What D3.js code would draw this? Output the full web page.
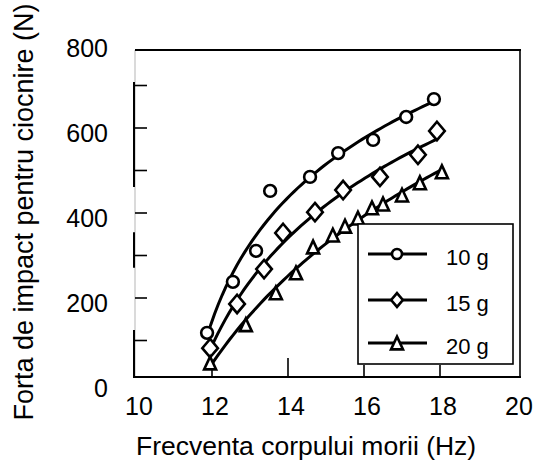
<!DOCTYPE html>
<html>
<head>
<meta charset="utf-8">
<script src="https://cdn.jsdelivr.net/npm/d3@7"></script>
<style>
  body { margin: 0; background: #fff; }
  text { font-family: "Liberation Sans", Arial, sans-serif; fill: #000; }
</style>
</head>
<body>
<svg id="chart" width="539" height="462"></svg>
<script>
// Measured impact force (N) against mill body frequency (Hz), one series per ball mass
const freq10  = [11.87, 12.55, 13.16, 13.53, 14.58, 15.32, 16.24, 17.11, 17.84];
const force10 = [118, 238, 311, 452, 485, 541, 572, 626, 668];

const freq15  = [11.95, 12.66, 13.37, 13.87, 14.71, 15.45, 16.42, 17.42, 17.92];
const force15 = [82, 186, 268, 353, 402, 454, 485, 537, 593];

const freq20  = [11.95, 12.89, 13.68, 14.21, 14.66, 15.18, 15.50, 15.84, 16.21, 16.50, 17.00, 17.47, 18.05];
const force20 = [47, 137, 212, 259, 320, 348, 369, 388, 412, 421, 442, 471, 497];

const seriesNames = ["10 g", "15 g", "20 g"];
const seriesMarkers = ["circle", "diamond", "triangle"];

const xTickLabels = [10, 12, 14, 16, 18, 20];
const xTickMarks = [12, 14, 16, 18];
const yTickLabels = [0, 200, 400, 600, 800];
const yTickMarks = [100, 200, 300, 400, 500, 600, 700];
// stretches of the left edge that are drawn heavier (N)
const leftEdgeHeavy = [[708, 461], [355, 271], [125, 14]];

const xTitle = "Frecventa corpului morii (Hz)";
const yTitle = "Forta de impact pentru ciocnire (N)";

// ---- layout ----
const frame = { left: 135, right: 520, top: 50, bottom: 377 };
const x = d3.scaleLinear().domain([10, 20]).range([136, 516]);
const y = d3.scaleLinear().domain([0, 800]).range([383, 43]);

const svg = d3.select("#chart");

// ---- frame ----
svg.append("line").attr("x1", frame.left).attr("x2", frame.left)
  .attr("y1", frame.top).attr("y2", frame.bottom)
  .attr("stroke", "#b5b5b5").attr("stroke-width", 1);
leftEdgeHeavy.forEach(([a, b]) => {
  svg.append("line").attr("x1", frame.left - 1).attr("x2", frame.left - 1)
    .attr("y1", y(a)).attr("y2", y(b))
    .attr("stroke", "#000").attr("stroke-width", 2);
});
svg.append("line").attr("x1", frame.left).attr("x2", frame.right + 1)
  .attr("y1", frame.top).attr("y2", frame.top)
  .attr("stroke", "#000").attr("stroke-width", 2.2);
svg.append("line").attr("x1", frame.left - 2).attr("x2", frame.right + 1)
  .attr("y1", frame.bottom).attr("y2", frame.bottom)
  .attr("stroke", "#000").attr("stroke-width", 2.2);
svg.append("line").attr("x1", frame.right).attr("x2", frame.right)
  .attr("y1", frame.top).attr("y2", frame.bottom)
  .attr("stroke", "#000").attr("stroke-width", 1.6);

// ---- ticks (inward) ----
svg.append("g").selectAll("line").data(yTickMarks).join("line")
  .attr("x1", frame.left).attr("x2", frame.left + 12)
  .attr("y1", d => y(d)).attr("y2", d => y(d))
  .attr("stroke", "#000").attr("stroke-width", 1.6);
svg.append("g").selectAll("line").data(xTickMarks).join("line")
  .attr("x1", d => x(d)).attr("x2", d => x(d))
  .attr("y1", frame.bottom).attr("y2", d => frame.bottom - (d === 14 ? 19 : 12))
  .attr("stroke", "#000").attr("stroke-width", 1.6);

// ---- tick labels ----
svg.append("g").selectAll("text").data(yTickLabels).join("text")
  .attr("x", 108).attr("y", d => y(d) + 5)
  .attr("text-anchor", "end").attr("dominant-baseline", "central")
  .attr("font-size", 25).text(d => d);
svg.append("g").selectAll("text").data(xTickLabels).join("text")
  .attr("x", d => x(d) + 3).attr("y", 415)
  .attr("text-anchor", "middle")
  .attr("font-size", 25).text(d => d);

// ---- axis titles ----
svg.append("text").attr("x", 136).attr("y", 455)
  .attr("font-size", 26.5).text(xTitle);
svg.append("text")
  .attr("transform", "translate(33,212) rotate(-90)")
  .attr("text-anchor", "middle")
  .attr("font-size", 27).text(yTitle);

// ---- markers ----
function markerPath(kind, s) {
  if (kind === "circle") {
    const r = 5.9 * s;
    return `M${-r},0A${r},${r} 0 1,0 ${r},0A${r},${r} 0 1,0 ${-r},0Z`;
  }
  if (kind === "diamond") {
    const w = 7.8 * s, h = 9.2 * s;
    return `M0,${-h}L${w},0L0,${h}L${-w},0Z`;
  }
  const w = 6 * s, h = 6.4 * s;
  return `M0,${-h}L${w},${h}L${-w},${h}Z`;
}

// least-squares trend y = a + b·ln(x − c); the shift c is chosen by a scan
function logFit(xs, ys) {
  let best = null;
  const cMax = d3.min(xs) - 0.3;
  for (let c = 0; c <= cMax; c += 0.02) {
    const u = xs.map(v => Math.log(v - c));
    const mu = d3.mean(u), my = d3.mean(ys);
    let sxy = 0, sxx = 0;
    u.forEach((ui, i) => { sxy += (ui - mu) * (ys[i] - my); sxx += (ui - mu) ** 2; });
    const b = sxy / sxx, a = my - b * mu;
    const sse = d3.sum(u, (ui, i) => (ys[i] - a - b * ui) ** 2);
    if (!best || sse < best.sse) best = { a, b, c, sse };
  }
  return v => best.a + best.b * Math.log(v - best.c);
}

const series = [
  { name: seriesNames[0], marker: seriesMarkers[0], fx: freq10, fy: force10 },
  { name: seriesNames[1], marker: seriesMarkers[1], fx: freq15, fy: force15 },
  { name: seriesNames[2], marker: seriesMarkers[2], fx: freq20, fy: force20 }
];

const line = d3.line().x(d => x(d[0])).y(d => y(d[1]));

series.forEach(sr => {
  const f = logFit(sr.fx, sr.fy);
  const [lo, hi] = d3.extent(sr.fx);
  const pts = d3.range(0, 61).map(i => {
    const v = lo + (hi - lo) * i / 60;
    return [v, f(v)];
  });
  svg.append("path").datum(pts).attr("d", line)
    .attr("fill", "none").attr("stroke", "#000").attr("stroke-width", 3);
});

series.forEach(sr => {
  svg.append("g").selectAll("path").data(sr.fx.map((v, i) => [v, sr.fy[i]])).join("path")
    .attr("transform", d => `translate(${x(d[0])},${y(d[1])})`)
    .attr("d", markerPath(sr.marker, 1))
    .attr("fill", "#fff").attr("stroke", "#000").attr("stroke-width", 2.6)
    .attr("stroke-linejoin", "miter");
});

// ---- legend ----
const legend = svg.append("g");
legend.append("rect").attr("x", 358).attr("y", 224).attr("width", 155).attr("height", 140)
  .attr("fill", "#fff").attr("stroke", "#000").attr("stroke-width", 1.6);
const legendRows = [254, 300, 343];
const legendMarkerScale = [0.85, 0.75, 1];
series.forEach((sr, i) => {
  const ly = legendRows[i];
  legend.append("line").attr("x1", 368).attr("x2", 427).attr("y1", ly).attr("y2", ly)
    .attr("stroke", "#000").attr("stroke-width", 3);
  legend.append("path").attr("transform", `translate(397,${ly})`)
    .attr("d", markerPath(sr.marker, legendMarkerScale[i]))
    .attr("fill", "#fff").attr("stroke", "#000").attr("stroke-width", 2.6);
  legend.append("text").attr("x", 446).attr("y", ly + 11)
    .attr("font-size", 22).text(sr.name);
});
</script>
</body>
</html>
